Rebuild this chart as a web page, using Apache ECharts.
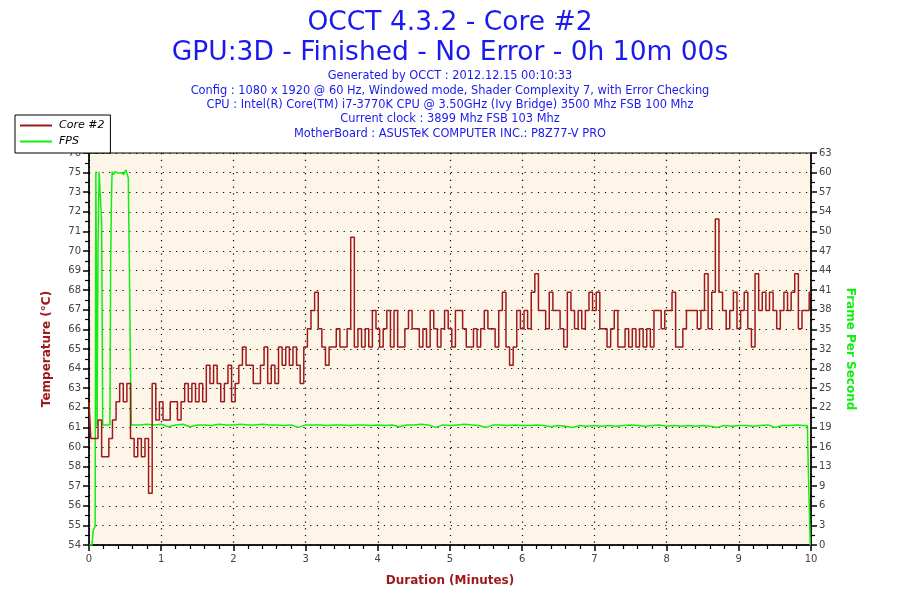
<!DOCTYPE html>
<html>
<head>
<meta charset="utf-8">
<script src="https://cdn.jsdelivr.net/npm/echarts@6/dist/echarts.min.js"></script>
<style>
  html, body { margin: 0; padding: 0; background: #fff; }
  #main { width: 900px; height: 600px; }
</style>
</head>
<body>
<div id="main"></div>
<script>
// core #2 temperature, one reading every 3 s (0.05 min)
var tempStepMin = 0.05;
var temps = [
  62, 60, 60, 61, 59, 59, 60, 61, 62, 63, 62, 63, 60, 59, 60, 59, 60, 57, 63, 61,
  62, 61, 61, 62, 62, 61, 62, 63, 62, 63, 62, 63, 62, 64, 63, 64, 63, 62, 63, 64,
  62, 63, 64, 65, 64, 64, 63, 63, 64, 65, 63, 64, 63, 65, 64, 65, 64, 65, 64, 63,
  65, 66, 67, 68, 66, 65, 64, 65, 65, 66, 65, 65, 66, 71, 65, 66, 65, 66, 65, 67,
  66, 65, 66, 67, 65, 67, 65, 65, 66, 67, 66, 66, 65, 66, 65, 67, 66, 65, 66, 67,
  66, 65, 67, 67, 66, 65, 65, 66, 65, 66, 67, 66, 66, 65, 67, 68, 65, 64, 65, 67,
  66, 67, 66, 68, 69, 67, 67, 66, 68, 67, 67, 66, 65, 68, 67, 66, 67, 66, 67, 68,
  67, 68, 66, 66, 65, 66, 67, 65, 65, 66, 65, 66, 65, 66, 65, 66, 65, 67, 67, 66,
  67, 67, 68, 65, 65, 66, 67, 67, 67, 66, 67, 69, 66, 68, 72, 68, 67, 66, 67, 68,
  66, 67, 68, 66, 65, 69, 67, 68, 67, 68, 67, 66, 67, 68, 67, 68, 69, 66, 67, 67,
  68
];

// FPS: minutes / frames per second
var fpsTime = [
  0, 0.04, 0.06, 0.085, 0.095, 0.105, 0.112, 0.125, 0.14, 0.16, 0.175, 0.19, 0.29,
  0.30, 0.31, 0.32, 0.34, 0.36, 0.40, 0.45, 0.48, 0.51, 0.544, 0.558, 0.575, 0.585,
  0.6, 0.7, 0.8, 0.9, 1.0, 1.1, 1.2, 1.3, 1.4, 1.5, 1.6, 1.7, 1.8, 1.9,
  2.0, 2.1, 2.2, 2.3, 2.4, 2.5, 2.6, 2.7, 2.8, 2.9, 3.0, 3.1, 3.2, 3.3, 3.4, 3.5,
  3.6, 3.7, 3.8, 3.9, 4.0, 4.1, 4.2, 4.3, 4.4, 4.5, 4.6, 4.7, 4.8, 4.9,
  5.0, 5.1, 5.2, 5.3, 5.4, 5.5, 5.6, 5.7, 5.8, 5.9, 6.0, 6.1, 6.2, 6.3, 6.4, 6.5,
  6.6, 6.7, 6.8, 6.9, 7.0, 7.1, 7.2, 7.3, 7.4, 7.5, 7.6, 7.7, 7.8, 7.9,
  8.0, 8.1, 8.2, 8.3, 8.4, 8.5, 8.6, 8.7, 8.8, 8.9, 9.0, 9.1, 9.2, 9.3, 9.4, 9.5,
  9.6, 9.7, 9.8, 9.9, 9.95, 9.965, 9.99, 10
];
var fpsValues = [
  0, 0, 2.4, 3, 60, 60, 19, 48, 60, 60, 52, 19.3, 19.3,
  45, 55, 60, 59.5, 60, 59.8, 59.8, 59.5, 60.3, 59, 46, 28, 19.3,
  19.4, 19.3, 19.4, 19.3, 19.4, 19.0, 19.3, 19.4, 19.0, 19.3, 19.3, 19.2, 19.4, 19.3,
  19.3, 19.4, 19.3, 19.3, 19.4, 19.3, 19.3, 19.2, 19.3, 18.9, 19.3, 19.3, 19.3, 19.2, 19.3, 19.3,
  19.2, 19.3, 19.3, 19.2, 19.3, 19.2, 19.3, 19.0, 19.3, 19.3, 19.4, 19.3, 18.9, 19.3,
  19.2, 19.3, 19.4, 19.3, 19.2, 18.9, 19.3, 19.3, 19.2, 19.3, 19.2, 19.2, 19.3, 19.2, 19.0, 19.2,
  19.1, 18.9, 19.2, 19.1, 19.2, 19.1, 19.2, 19.1, 19.2, 19.3, 19.2, 19.1, 19.2, 19.3,
  19.1, 19.2, 19.1, 19.2, 19.1, 19.2, 19.1, 18.9, 19.2, 19.1, 19.2, 19.2, 19.1, 19.2, 19.3, 18.9,
  19.2, 19.2, 19.3, 19.2, 19.2, 11, 0, 0
];

// tick labels as OCCT prints them
var tempMin = 54.17, tempStep = 1.072;
var tempTicks = [54, 55, 56, 57, 58, 60, 61, 62, 63, 64, 65, 66, 67, 68, 69, 70, 71, 72, 73, 75, 76];
var fpsMax = 63, fpsStep = 3.15;
var fpsTicks = [0, 3, 6, 9, 13, 16, 19, 22, 25, 28, 32, 35, 38, 41, 44, 47, 50, 54, 57, 60, 63];

var infoLines = [
  'Generated by OCCT : 2012.12.15 00:10:33',
  'Config : 1080 x 1920 @ 60 Hz, Windowed mode, Shader Complexity 7, with Error Checking',
  'CPU : Intel(R) Core(TM) i7-3770K CPU @ 3.50GHz (Ivy Bridge) 3500 Mhz FSB 100 Mhz',
  'Current clock : 3899 Mhz FSB 103 Mhz',
  'MotherBoard : ASUSTeK COMPUTER INC.: P8Z77-V PRO'
];

var tempData = [];
for (var i = 0; i < temps.length; i++) {
  tempData.push([i * tempStepMin, temps[i]]);
}
var fpsData = [];
for (var j = 0; j < fpsTime.length; j++) {
  fpsData.push([fpsTime[j], fpsValues[j]]);
}

var blue = '#1a1aee';
var red = '#a0191a';
var green = '#11ee11';
var font = 'DejaVu Sans';
var dotted = { color: '#000', width: 1.2, type: [1.2, 5.5] };

var titles = [
  {
    text: 'OCCT 4.3.2 - Core #2',
    left: 'center', top: 5,
    textStyle: { fontFamily: font, fontSize: 26.5, fontWeight: 'normal', color: blue }
  },
  {
    text: 'GPU:3D - Finished - No Error - 0h 10m 00s',
    left: 'center', top: 35,
    textStyle: { fontFamily: font, fontSize: 26.5, fontWeight: 'normal', color: blue }
  }
];
for (var k = 0; k < infoLines.length; k++) {
  titles.push({
    text: infoLines[k],
    left: 'center', top: 71 + k * 14.3,
    padding: 0,
    textStyle: { fontFamily: font, fontSize: 11.4, fontWeight: 'normal', color: blue }
  });
}

var myChart = echarts.init(document.getElementById('main'));
var option = {
  backgroundColor: '#fff',
  animation: false,
  title: titles,
  legend: {
    orient: 'vertical',
    left: 15, top: 115,
    padding: [5, 6, 6, 5],
    itemGap: 5,
    itemWidth: 32, itemHeight: 2,
    backgroundColor: '#fff',
    borderColor: '#000', borderWidth: 1,
    z: 10,
    icon: 'rect',
    textStyle: { fontFamily: font, fontSize: 11, fontStyle: 'italic', color: '#000', padding: [0, 0, 0, 2] },
    data: ['Core #2', 'FPS']
  },
  grid: {
    left: 89, right: 89, top: 153, bottom: 55,
    show: true,
    backgroundColor: '#fdf6e8',
    borderColor: '#000', borderWidth: 1
  },
  xAxis: {
    type: 'value',
    min: 0, max: 10, interval: 1,
    name: 'Duration (Minutes)',
    nameLocation: 'middle', nameGap: 30,
    nameTextStyle: { fontFamily: font, fontSize: 12, fontWeight: 'bold', color: red },
    axisLine: { onZero: false, lineStyle: { color: '#000', width: 1.5 } },
    axisTick: { length: 6, lineStyle: { color: '#000', width: 1.5 } },
    minorTick: { show: true, splitNumber: 5, length: 4, lineStyle: { color: '#000', width: 1.2 } },
    axisLabel: { fontFamily: font, fontSize: 10, color: '#444', margin: 9 },
    splitLine: { show: true, lineStyle: dotted }
  },
  yAxis: [
    {
      type: 'value',
      min: tempMin, max: tempMin + 20 * tempStep, interval: tempStep,
      name: 'Temperature (°C)',
      nameLocation: 'middle', nameGap: 36, nameRotate: 90,
      nameTextStyle: { fontFamily: font, fontSize: 12, fontWeight: 'bold', color: red },
      axisLine: { show: true, lineStyle: { color: '#000', width: 1.5 } },
      axisTick: { length: 6, lineStyle: { color: '#000', width: 1.5 } },
      minorTick: { show: true, splitNumber: 2, length: 4, lineStyle: { color: '#000', width: 1.2 } },
      axisLabel: {
        fontFamily: font, fontSize: 10, color: '#444', margin: 8,
        formatter: function (v) {
          return tempTicks[Math.round((v - tempMin) / tempStep)];
        }
      },
      splitLine: { show: true, lineStyle: dotted }
    },
    {
      type: 'value',
      min: 0, max: fpsMax, interval: fpsStep,
      name: 'Frame Per Second',
      nameLocation: 'middle', nameGap: 33, nameRotate: -90,
      nameTextStyle: { fontFamily: font, fontSize: 12, fontWeight: 'bold', color: green },
      axisLine: { show: true, lineStyle: { color: '#000', width: 1.5 } },
      axisTick: { length: 6, lineStyle: { color: '#000', width: 1.5 } },
      minorTick: { show: true, splitNumber: 2, length: 4, lineStyle: { color: '#000', width: 1.2 } },
      axisLabel: {
        fontFamily: font, fontSize: 10, color: '#444', margin: 8,
        formatter: function (v) {
          return fpsTicks[Math.round(v / fpsStep)];
        }
      },
      splitLine: { show: false }
    }
  ],
  series: [
    {
      name: 'Core #2',
      type: 'line',
      yAxisIndex: 0,
      step: 'middle',
      symbol: 'none',
      data: tempData,
      itemStyle: { color: red },
      lineStyle: { color: red, width: 1.5 },
      z: 3
    },
    {
      name: 'FPS',
      type: 'line',
      yAxisIndex: 1,
      symbol: 'none',
      data: fpsData,
      itemStyle: { color: green },
      lineStyle: { color: green, width: 1.5 },
      z: 2
    }
  ]
};
myChart.setOption(option);
</script>
</body>
</html>
